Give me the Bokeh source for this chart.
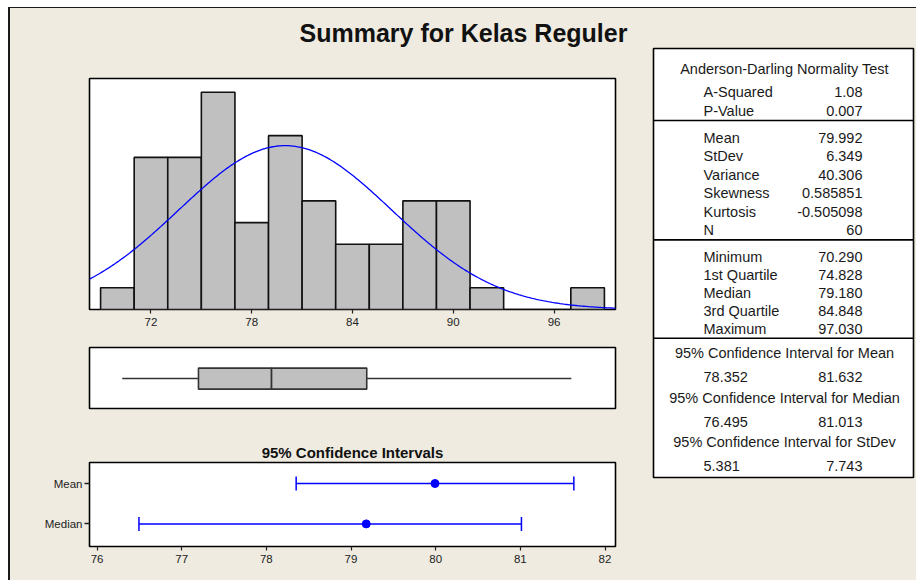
import numpy as np
from bokeh.plotting import figure
from bokeh.layouts import column, row
from bokeh.models import Range1d, FixedTicker, ColumnDataSource, Whisker, TeeHead, Span
from bokeh.embed import file_html
from bokeh.resources import INLINE
from bokeh.core.properties import value

# ---------------- data ----------------
TITLE = "Summary for Kelas Reguler"
CI_PANEL_TITLE = "95% Confidence Intervals"

BIN_LEFT = [69, 71, 73, 75, 77, 79, 81, 83, 85, 87, 89, 91, 93, 95, 97]
BIN_WIDTH = 2
COUNTS = [1, 7, 7, 10, 4, 8, 5, 3, 3, 5, 5, 1, 0, 0, 1]
HIST_TICKS = [72, 78, 84, 90, 96]

A_SQUARED = 1.08
P_VALUE = 0.007
MEAN = 79.992
STDEV = 6.349
VARIANCE = 40.306
SKEWNESS = 0.585851
KURTOSIS = -0.505098
N = 60
MINIMUM = 70.290
Q1 = 74.828
MEDIAN = 79.180
Q3 = 84.848
MAXIMUM = 97.030

CI_NAMES = ["Mean", "Median"]
CI_CENTER = [MEAN, MEDIAN]
CI_LOWER = [78.352, 76.495]
CI_UPPER = [81.632, 81.013]
CI_TICKS = [76, 77, 78, 79, 80, 81, 82]
STDEV_CI = [5.381, 7.743]

AD_LABELS = ["A-Squared", "P-Value"]
AD_VALUES = [f"{A_SQUARED:.2f}", f"{P_VALUE:.3f}"]
MOM_LABELS = ["Mean", "StDev", "Variance", "Skewness", "Kurtosis", "N"]
MOM_VALUES = [f"{MEAN:.3f}", f"{STDEV:.3f}", f"{VARIANCE:.3f}",
              f"{SKEWNESS:.6f}", f"{KURTOSIS:.6f}", f"{N:d}"]
QRT_LABELS = ["Minimum", "1st Quartile", "Median", "3rd Quartile", "Maximum"]
QRT_VALUES = [f"{v:.3f}" for v in (MINIMUM, Q1, MEDIAN, Q3, MAXIMUM)]
CI_TITLES = ["95% Confidence Interval for Mean",
             "95% Confidence Interval for Median",
             "95% Confidence Interval for StDev"]
CI_LO_ALL = [CI_LOWER[0], CI_LOWER[1], STDEV_CI[0]]
CI_HI_ALL = [CI_UPPER[0], CI_UPPER[1], STDEV_CI[1]]

# ---------------- styles ----------------
BG = "#EFEBE0"
FONT = "Liberation Sans"
GRAY = "#C0C0C0"
BLUE = "#0000FF"
INK = "#1a1a1a"


def base_fig(**kw):
    p = figure(output_backend="svg", toolbar_location=None,
               background_fill_color="white", border_fill_color=BG,
               outline_line_color="black", outline_line_width=1.6, **kw)
    p.grid.visible = False
    return p


def style_xaxis(p, ticks):
    ax = p.xaxis[0]
    ax.ticker = FixedTicker(ticks=ticks)
    ax.axis_line_color = None
    ax.minor_tick_line_color = None
    ax.major_tick_in = 0
    ax.major_tick_out = 4
    ax.major_tick_line_color = "#222"
    ax.major_tick_line_width = 1.2
    ax.major_label_standoff = 4
    ax.major_label_text_font = FONT
    ax.major_label_text_font_size = "11.5px"
    ax.major_label_text_color = "#222"


# ---------------- title band ----------------
top = figure(width=906, height=39, output_backend="svg", toolbar_location=None,
             x_axis_location=None, y_axis_location=None,
             min_border_left=0, min_border_right=0, min_border_top=38, min_border_bottom=0,
             background_fill_color=BG, border_fill_color=BG, outline_line_color=None,
             title=TITLE)
top.grid.visible = False
top.title.align = "center"
top.title.text_font = FONT
top.title.text_font_size = "25px"
top.title.text_font_style = "bold"
top.title.text_color = "#111"
top.title.standoff = 0
top.title.offset = 0

# ---------------- histogram ----------------
hx = Range1d(68.34, 99.66)
hist = base_fig(width=640, height=291, x_range=hx, y_range=Range1d(0, 10.63),
                y_axis_location=None,
                min_border_left=79, min_border_right=35,
                min_border_top=31, min_border_bottom=29)
hist.quad(left=BIN_LEFT, right=[b + BIN_WIDTH for b in BIN_LEFT], bottom=0, top=COUNTS,
          fill_color=GRAY, line_color="#111", line_width=1.6)
cx = np.linspace(hx.start, hx.end, 400)
cy = N * BIN_WIDTH * np.exp(-0.5 * ((cx - MEAN) / STDEV) ** 2) / (STDEV * np.sqrt(2 * np.pi))
hist.line(cx, cy, line_color=BLUE, line_width=1.3)
style_xaxis(hist, HIST_TICKS)

# ---------------- boxplot ----------------
box = base_fig(width=640, height=100, x_range=hx, y_range=Range1d(0, 1),
               x_axis_location=None, y_axis_location=None,
               min_border_left=79, min_border_right=35,
               min_border_top=9, min_border_bottom=30)
BOX_Y = 0.49
BOX_H = 0.345
box.segment(x0=[MINIMUM, Q3], y0=[BOX_Y, BOX_Y], x1=[Q1, MAXIMUM], y1=[BOX_Y, BOX_Y],
            line_color="#333", line_width=1.5)
box.quad(left=[Q1, MEDIAN], right=[MEDIAN, Q3],
         bottom=BOX_Y - BOX_H / 2, top=BOX_Y + BOX_H / 2,
         fill_color=GRAY, line_color="#333", line_width=1.6)

# ---------------- confidence intervals ----------------
ci = base_fig(width=640, height=142, x_range=Range1d(75.911, 82.124),
              y_range=Range1d(0.44, 2.52),
              min_border_left=79, min_border_right=35,
              min_border_top=24, min_border_bottom=34,
              title=CI_PANEL_TITLE)
ci.title.align = "center"
ci.title.text_font = FONT
ci.title.text_font_size = "15px"
ci.title.text_font_style = "bold"
ci.title.text_color = "#111"
ci.title.standoff = 4
ci_pos = [2, 1]
src = ColumnDataSource(dict(y=ci_pos, lo=CI_LOWER, hi=CI_UPPER, c=CI_CENTER))
ci.add_layout(Whisker(source=src, base="y", lower="lo", upper="hi", dimension="width",
                      line_color=BLUE, line_width=1.5,
                      lower_head=TeeHead(size=14, line_color=BLUE, line_width=1.5),
                      upper_head=TeeHead(size=14, line_color=BLUE, line_width=1.5)))
ci.scatter("c", "y", source=src, size=8, color=BLUE)
style_xaxis(ci, CI_TICKS)
yax = ci.yaxis[0]
yax.ticker = FixedTicker(ticks=ci_pos)
yax.major_label_overrides = {p: n for p, n in zip(ci_pos, CI_NAMES)}
yax.axis_line_color = None
yax.minor_tick_line_color = None
yax.major_tick_in = 0
yax.major_tick_out = 5
yax.major_tick_line_color = "#222"
yax.major_tick_line_width = 1.5
yax.major_label_standoff = 2
yax.major_label_text_font = FONT
yax.major_label_text_font_size = "11.5px"
yax.major_label_text_color = "#222"

# ---------------- statistics table ----------------
tbl = base_fig(width=266, height=533, x_range=Range1d(0, 260), y_range=Range1d(429, 0),
               x_axis_location=None, y_axis_location=None,
               min_border_left=3, min_border_right=3, min_border_top=1, min_border_bottom=103)
LAB_X, VAL_X, MID_X = 50, 209, 131


def txt(xs, ys, texts, align):
    tbl.text(x=xs, y=ys, text=texts, text_align=align, text_baseline="middle",
             text_font=value(FONT), text_font_size="14.5px", text_color=INK)


txt([MID_X], [20.4], ["Anderson-Darling Normality Test"], "center")
ad_y = [43.4 + 18.6 * i for i in range(len(AD_LABELS))]
txt([LAB_X] * len(ad_y), ad_y, AD_LABELS, "left")
txt([VAL_X] * len(ad_y), ad_y, AD_VALUES, "right")

mom_y = [89.4 + 18.46 * i for i in range(len(MOM_LABELS))]
txt([LAB_X] * len(mom_y), mom_y, MOM_LABELS, "left")
txt([VAL_X] * len(mom_y), mom_y, MOM_VALUES, "right")

qrt_y = [208.4 + 18.1 * i for i in range(len(QRT_LABELS))]
txt([LAB_X] * len(qrt_y), qrt_y, QRT_LABELS, "left")
txt([VAL_X] * len(qrt_y), qrt_y, QRT_VALUES, "right")

cit_y = [304.4 + 44.7 * k for k in range(len(CI_TITLES))]
civ_y = [y + 24 for y in cit_y]
txt([MID_X] * len(cit_y), cit_y, CI_TITLES, "center")
txt([LAB_X] * len(civ_y), civ_y, [f"{v:.3f}" for v in CI_LO_ALL], "left")
txt([VAL_X] * len(civ_y), civ_y, [f"{v:.3f}" for v in CI_HI_ALL], "right")

for yy in (72, 191.4, 289.7):
    tbl.add_layout(Span(location=yy, dimension="width", line_color="black", line_width=1.6))

# ---------------- layout ----------------
left = column(hist, box, ci, spacing=0)
body = row(left, tbl, spacing=0)
root = column(top, body, spacing=0,
              styles={"margin-left": "8px", "margin-top": "7px",
                      "border-left": "2px solid #1a1a1a", "border-top": "1px solid #1a1a1a",
                      "background-color": BG})

with open("out.html", "w") as f:
    f.write(file_html(root, INLINE))
